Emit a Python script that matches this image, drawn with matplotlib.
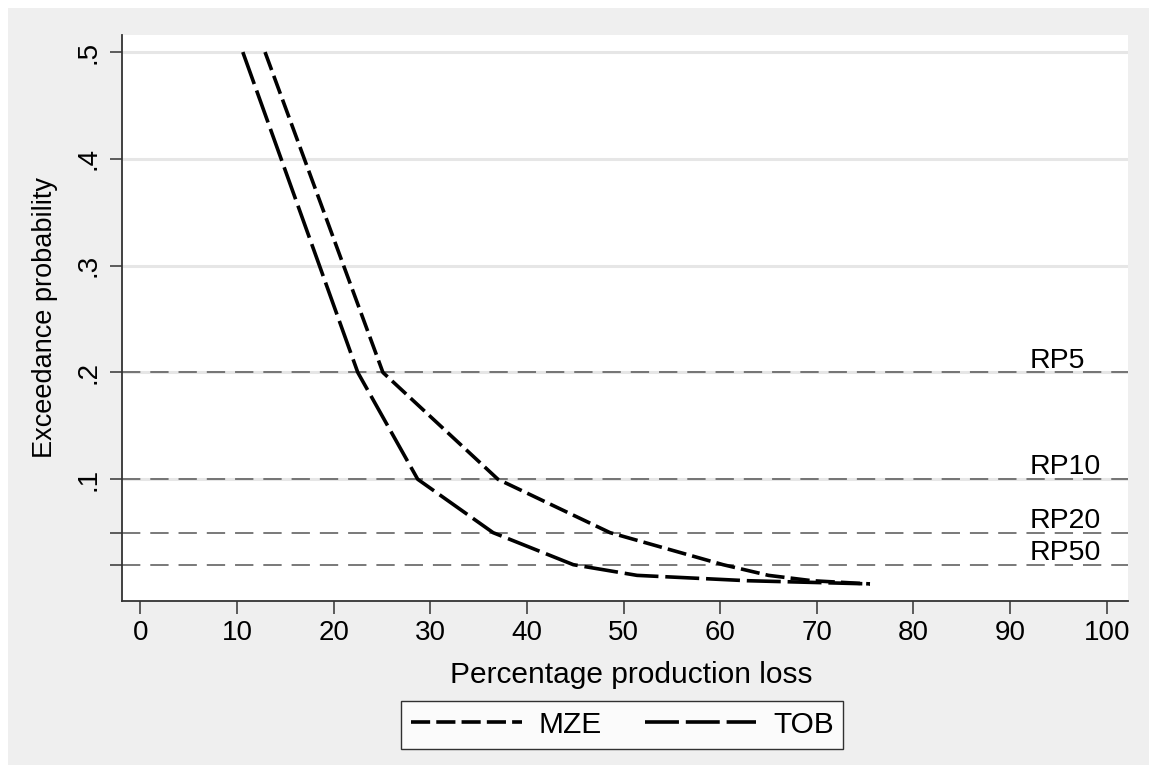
import matplotlib.pyplot as plt
from matplotlib.patches import Rectangle

plt.rcParams["font.family"] = ["Liberation Sans", "DejaVu Sans"]

# exceedance probabilities (return periods 2..500 years)
prob = [0.5, 0.2, 0.1, 0.05, 0.02, 0.01, 0.005, 0.002]
mze_loss = [12.9, 25.1, 37.0, 48.6, 60.3, 65.0, 69.5, 75.5]
tob_loss = [10.6, 22.5, 28.7, 36.5, 44.8, 51.4, 62.8, 75.5]

rp_levels = [0.2, 0.1, 0.05, 0.02]
rp_labels = ["RP5", "RP10", "RP20", "RP50"]

x_ticks = list(range(0, 101, 10))
y_ticks = [0.02, 0.05, 0.1, 0.2, 0.3, 0.4, 0.5]
y_ticklabels = ["", "", ".1", ".2", ".3", ".4", ".5"]

fig = plt.figure(figsize=(11.49, 7.70), dpi=100, facecolor="white")
fig.patches.append(Rectangle((8 / 1149, 5 / 770), 1 - 8 / 1149, 757 / 770,
                             transform=fig.transFigure, facecolor="#efefef",
                             edgecolor="none", zorder=-10))
ax = fig.add_axes([122 / 1149, 1 - 601 / 770, (1128 - 122) / 1149, (601 - 35) / 770])
ax.set_zorder(5)
ax.set_facecolor("white")

for y in [0.1, 0.2, 0.3, 0.4, 0.5]:
    ax.axhline(y, color="#e6e6e6", lw=2.2, zorder=1)

for y, lab in zip(rp_levels, rp_labels):
    ax.axhline(y, color="#555555", lw=1.1, dashes=(12, 6.5), zorder=2)
    ax.text(92, y + 0.0045, lab, ha="left", va="baseline", fontsize=20.5, color="black")

ax.plot(mze_loss, prob, color="black", lw=2.6, dashes=(5.3, 1.7), label="MZE", zorder=3)
ax.plot(tob_loss, prob, color="black", lw=2.6, dashes=(9.4, 1.9), label="TOB", zorder=3)

ax.set_xlim(-1.9, 102.2)
ax.set_ylim(-0.014, 0.516)
ax.set_xticks(x_ticks)
ax.set_yticks(y_ticks)
ax.set_yticklabels(y_ticklabels, rotation=90, va="center")
ax.tick_params(axis="both", labelsize=20, length=9, width=1.1, color="#333333")
ax.tick_params(axis="x", pad=5)
ax.tick_params(axis="y", pad=6)

for side in ["top", "right"]:
    ax.spines[side].set_visible(False)
for side in ["left", "bottom"]:
    ax.spines[side].set_color("#333333")
    ax.spines[side].set_linewidth(1.3)

ax.set_xlabel("Percentage production loss", fontsize=21.5, va="top")
ax.xaxis.set_label_coords(0.506, -0.106)
ax.set_ylabel("Exceedance probability", fontsize=19.5)
ax.yaxis.set_label_coords(-0.064, 0.5)

leg = ax.legend(loc="upper center", bbox_to_anchor=(0.4975, -0.1767), ncol=2,
                fontsize=21.5, frameon=True, fancybox=False, handlelength=3.7,
                columnspacing=1.45, borderpad=0.33, handletextpad=0.57,
                borderaxespad=0)
leg.get_frame().set_edgecolor("black")
leg.get_frame().set_linewidth(1.0)

fig.savefig("out.png", dpi=100, facecolor=fig.get_facecolor())
